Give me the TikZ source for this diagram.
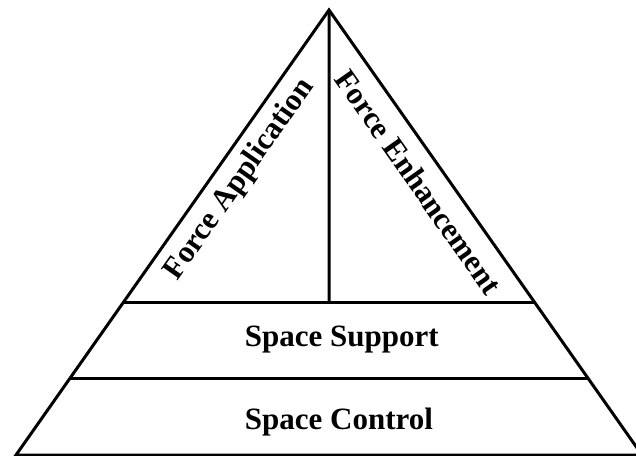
\documentclass[tikz,border=0pt]{standalone}
\usepackage{fontspec}
\setmainfont{Liberation Serif}
\usetikzlibrary{calc}
\begin{document}
\begin{tikzpicture}[x=1pt,y=-1pt,
  edge/.style={line width=3pt, line join=miter},
  label/.style={font=\fontsize{31}{31}\selectfont\bfseries, inner sep=0pt},
  tier/.style={label, anchor=base}]
  \useasboundingbox (0,0) rectangle (636,455);
  % pyramid corners
  \coordinate (apex) at (329,10);
  \coordinate (bl) at (16,455);
  \coordinate (br) at (642,455);
  % tier boundaries on the two slanted sides
  \coordinate (l1) at ($(apex)!0.6562!(bl)$);
  \coordinate (r1) at ($(apex)!0.6562!(br)$);
  \coordinate (l2) at ($(apex)!0.8292!(bl)$);
  \coordinate (r2) at ($(apex)!0.8292!(br)$);
  \coordinate (mid) at ($(l1)!0.5!(r1)$);
  \draw[edge] (bl) -- (apex) -- (br) -- cycle;
  \draw[edge] (l1) -- (r1);
  \draw[edge] (l2) -- (r2);
  \draw[edge] (apex) -- (mid);
  % labels
  \node[tier] (support) at (341.7,346) {Space Support};
  \node[tier] (control) at (339,429) {Space Control};
  \node[tier, rotate=54.9] (apply) at (246,184) {Force Application};
  \node[tier, rotate=-54.9] (enhance) at (410,188) {Force Enhancement};
\end{tikzpicture}
\end{document}
